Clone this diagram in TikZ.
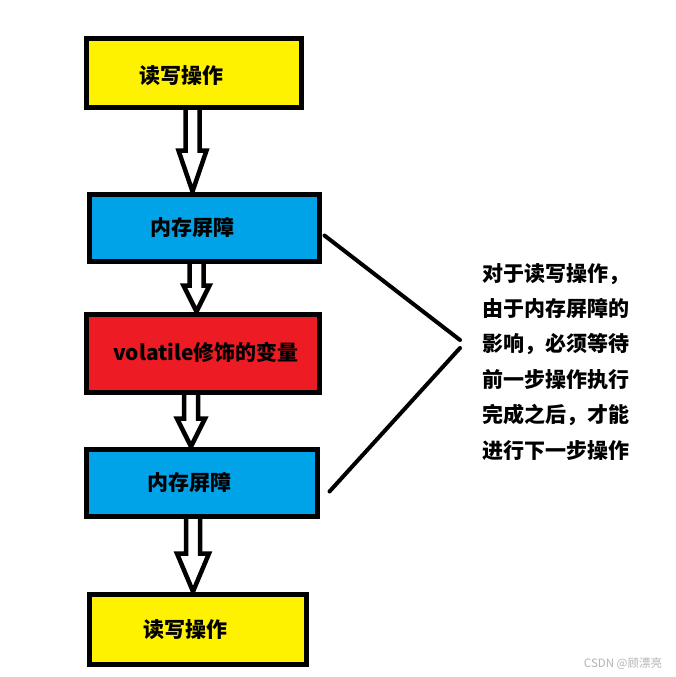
\documentclass[tikz,border=0pt]{standalone}
\usepackage{fontspec}
\usepackage{xcolor}
\newfontfamily\cjk{Noto Sans CJK SC}
\usetikzlibrary{calc,backgrounds}

\definecolor{rwyellow}{HTML}{FFF200}
\definecolor{mbblue}{HTML}{00A2E8}
\definecolor{volred}{HTML}{ED1C24}
\definecolor{markgray}{HTML}{B4B4B4}

% hollow down arrow: from, to, xshift, head half width, head length
\newcommand\fatdown[5]{%
  \path ([xshift=#3]#1.south) coordinate (top) (top |- #2.north) coordinate (tip);
  \draw[fat] ($(top)+(-7,0)$) -- ($(tip)+(-7,-#5)$) -- ($(tip)+(-#4,-#5)$) -- (tip)
    -- ($(tip)+(#4,-#5)$) -- ($(tip)+(7,-#5)$) -- ($(top)+(7,0)$);}

\tikzset{
  box/.style={draw, line width=5pt, inner sep=0pt},
  boxtext/.style={font=\cjk\bfseries\fontsize{21}{25}\selectfont, inner sep=0pt},
  fat/.style={line width=4.5pt, line join=miter},
  brace/.style={line width=4pt, line cap=round},
}

\begin{document}
\begin{tikzpicture}[x=1pt,y=-1pt]
  \useasboundingbox (0,0) rectangle (676,677);

  % the chain of boxes
  \node[box, fill=rwyellow, minimum width=215pt, minimum height=69pt,
        label={[boxtext,xshift=-12pt,yshift=-2.5pt]center:读写操作}] (rw1) at (193.5,73) {};
  \node[box, fill=mbblue, minimum width=230pt, minimum height=67pt,
        label={[boxtext,xshift=-11.5pt]center:内存屏障}] (mb1) at (204,227.5) {};
  \node[box, fill=volred, minimum width=233pt, minimum height=78pt,
        label={[boxtext,xshift=3.5pt,yshift=1pt]center:volatile修饰的变量}] (vol) at (202.5,353) {};
  \node[box, fill=mbblue, minimum width=231pt, minimum height=67pt,
        label={[boxtext,xshift=-12pt]center:内存屏障}] (mb2) at (201.5,482.5) {};
  \node[box, fill=rwyellow, minimum width=217pt, minimum height=70pt,
        label={[boxtext,xshift=-12pt,yshift=-1pt]center:读写操作}] (rw2) at (197.5,629) {};

  \begin{scope}[on background layer]
    \fatdown{rw1}{mb1}{-1pt}{14}{41}
    \fatdown{mb1}{vol}{-7.5pt}{13}{26}
    \fatdown{vol}{mb2}{-11.5pt}{14}{28}
    \fatdown{mb2}{rw2}{-8.5pt}{16}{38}
  \end{scope}

  % the note on the right
  \node[font=\cjk\bfseries\fontsize{21}{35.4}\selectfont, align=left, anchor=north west, inner sep=0pt]
    (note) at (482,263) {对于读写操作，\\由于内存屏障的\\影响，必须等待\\前一步操作执行\\完成之后，才能\\进行下一步操作};
  \coordinate (apexA) at (460,340);
  \coordinate (apexB) at (460,348);
  \draw[brace] ([shift={(3,8)}]mb1.east) -- (apexA);
  \draw[brace] (apexB) -- ([shift={(10,9)}]mb2.east);

  \node[font=\cjk\fontsize{11.5}{13}\selectfont, text=markgray, inner sep=0pt] (mark) at (623,664) {CSDN @顾漂亮};
\end{tikzpicture}
\end{document}
